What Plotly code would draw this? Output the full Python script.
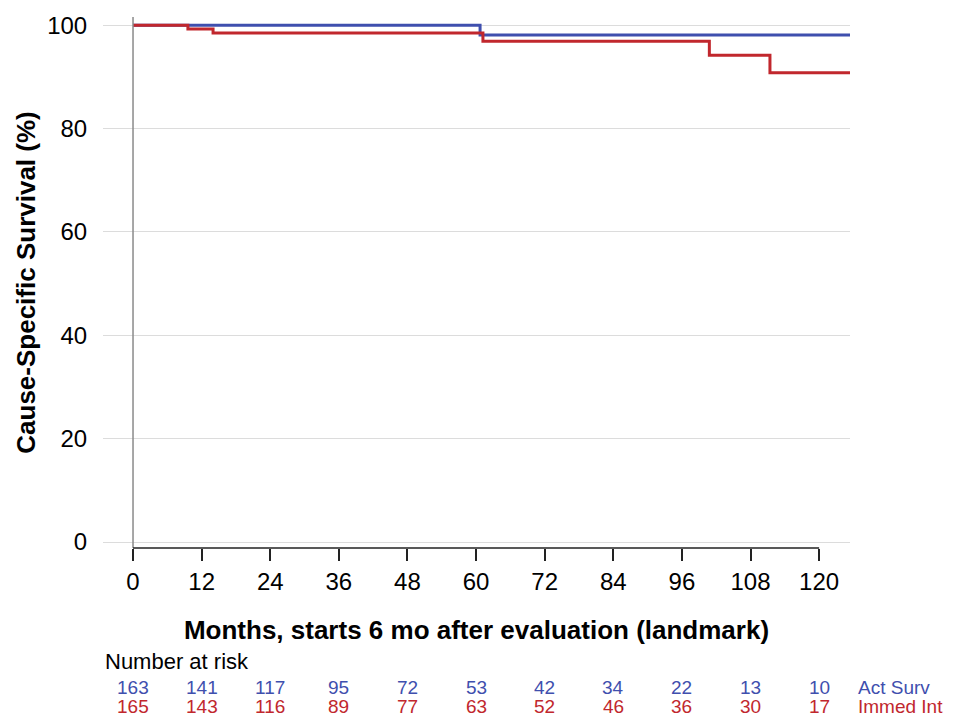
import plotly.graph_objects as go

# ---- data ----
act_t = [0, 60.7, 125.4]
act_s = [100, 98.1, 98.1]
imm_t = [0, 9.6, 14.0, 61.2, 100.8, 111.4, 125.4]
imm_s = [100, 99.3, 98.5, 96.9, 94.2, 90.8, 90.8]
risk_times = [0, 12, 24, 36, 48, 60, 72, 84, 96, 108, 120]
risk_act = [163, 141, 117, 95, 72, 53, 42, 34, 22, 13, 10]
risk_imm = [165, 143, 116, 89, 77, 63, 52, 46, 36, 30, 17]
group_names = ["Act Surv", "Immed Int"]
y_ticks = [0, 20, 40, 60, 80, 100]

BLUE = "#3f4fae"
RED = "#c1272d"
FONT = "Liberation Sans, Arial, sans-serif"

fig = go.Figure()
fig.add_trace(go.Scatter(x=act_t, y=act_s, mode="lines", line=dict(shape="hv", color=BLUE, width=3),
                         name=group_names[0], hoverinfo="skip"))
fig.add_trace(go.Scatter(x=imm_t, y=imm_s, mode="lines", line=dict(shape="hv", color=RED, width=3),
                         name=group_names[1], hoverinfo="skip"))

ml, mr, mt, mb = 103, 116, 15, 171
H = 719 - mt - mb

def py(p):
    return (719 - mb - p) / H

fig.update_layout(
    width=966, height=719,
    margin=dict(l=ml, r=mr, t=mt, b=mb),
    paper_bgcolor="white", plot_bgcolor="white",
    showlegend=False,
    font=dict(family=FONT, color="black", size=20),
    xaxis=dict(range=[-5.25, 125.4], tickvals=risk_times, ticks="outside", ticklen=12,
               tickwidth=1.5, tickcolor="#222", showgrid=False, zeroline=False, showline=False,
               tickfont=dict(size=24),
               title=dict(text="<b>Months, starts 6 mo after evaluation (landmark)</b>",
                          font=dict(size=26), standoff=27)),
    yaxis=dict(range=[-1.16, 101.6], tickvals=y_ticks, ticks="outside", ticklen=10,
               tickcolor="rgba(0,0,0,0)", showgrid=True, gridcolor="#dcdcdc", gridwidth=1,
               zeroline=False, showline=False, tickfont=dict(size=24),
               title=dict(text="<b>Cause-Specific Survival (%)</b>", font=dict(size=26), standoff=4)),
)

# axis lines drawn like base R
fig.add_shape(type="line", xref="x", yref="paper", x0=0, x1=0, y0=0, y1=1,
              line=dict(color="#8a8a8a", width=1.5), layer="above")
fig.add_shape(type="line", xref="x", yref="paper", x0=0, x1=120, y0=0, y1=0,
              line=dict(color="#222", width=1.5), layer="above")

# number at risk table
fig.add_annotation(text="Number at risk", xref="paper", yref="paper", x=0, y=py(662),
                   xanchor="left", yanchor="middle", showarrow=False, font=dict(size=22, color="black"))
for t, a, b in zip(risk_times, risk_act, risk_imm):
    fig.add_annotation(text=str(a), xref="x", yref="paper", x=t, y=py(688), xanchor="center",
                       yanchor="middle", showarrow=False, font=dict(size=19, color=BLUE))
    fig.add_annotation(text=str(b), xref="x", yref="paper", x=t, y=py(707), xanchor="center",
                       yanchor="middle", showarrow=False, font=dict(size=19, color=RED))
fig.add_annotation(text=group_names[0], xref="paper", yref="paper", x=(856 - ml) / (966 - ml - mr),
                   y=py(688), xanchor="left", yanchor="middle", showarrow=False,
                   font=dict(size=19, color=BLUE))
fig.add_annotation(text=group_names[1], xref="paper", yref="paper", x=(856 - ml) / (966 - ml - mr),
                   y=py(707), xanchor="left", yanchor="middle", showarrow=False,
                   font=dict(size=19, color=RED))

fig.write_html("out.html")
